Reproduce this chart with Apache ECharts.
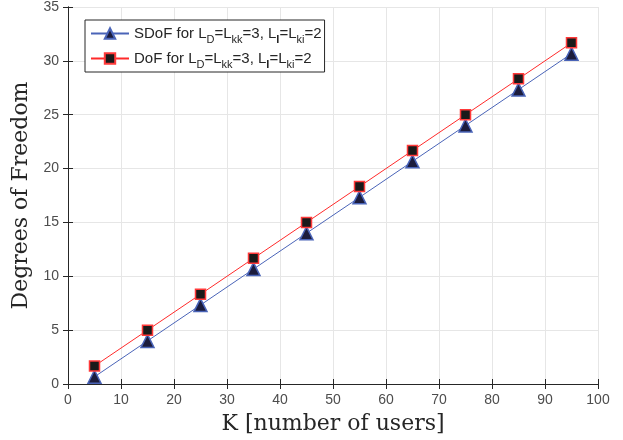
<!DOCTYPE html>
<html>
<head>
<meta charset="utf-8">
<script src="https://cdn.jsdelivr.net/npm/echarts@6/dist/echarts.min.js"></script>
<style>
  html, body { margin: 0; padding: 0; background: #fff; }
  #chart { width: 623px; height: 440px; }
</style>
</head>
<body>
<div id="chart"></div>
<script>
const users = [5, 15, 25, 35, 45, 55, 65, 75, 85, 95]
const sdof = [0.67, 4.0, 7.33, 10.67, 14.0, 17.33, 20.67, 24.0, 27.33, 30.67]
const dof = [1.67, 5.0, 8.33, 11.67, 15.0, 18.33, 21.67, 25.0, 28.33, 31.67]

const pairs = (xs, ys) => xs.map((x, i) => [x, ys[i]])

const tickFont = { color: '#4d4d4d', fontSize: 14, fontFamily: 'Liberation Sans, Arial' }
const axisLineStyle = { color: '#262626', width: 1 }
const serif = 'DejaVu Serif, Liberation Serif'

// legend text with subscripts
const legendRich = {
  n: { fontSize: 15, fontFamily: 'Liberation Sans, Arial', color: '#262626', lineHeight: 22 },
  s: { fontSize: 11, fontFamily: 'Liberation Sans, Arial', color: '#262626', padding: [12, 0, 0, 0], lineHeight: 22 },
  b: { fontSize: 11, fontWeight: 'bold', fontFamily: 'Liberation Sans, Arial', color: '#262626', padding: [12, 0, 0, 0], lineHeight: 22 }
}

const chart = echarts.init(document.getElementById('chart'))
chart.setOption({
  animation: false,
  grid: { left: 68, right: 25, top: 6, bottom: 55 },
  legend: {
    left: 85, top: 20,
    orient: 'vertical',
    itemWidth: 38, itemHeight: 13, itemGap: 2,
    backgroundColor: '#fff',
    borderColor: '#262626', borderWidth: 1,
    padding: [2, 3, 2, 5],
    data: ['sdof', 'dof'],
    formatter: name => name === 'sdof'
      ? '{n|SDoF for L}{s|D}{n|=L}{s|kk}{n|=3, L}{b|I}{n|=L}{s|ki}{n|=2}'
      : '{n|DoF for L}{s|D}{n|=L}{s|kk}{n|=3, L}{b|I}{n|=L}{s|ki}{n|=2}',
    textStyle: { rich: legendRich }
  },
  xAxis: [
    {
      type: 'value', min: 0, max: 100, interval: 10,
      name: 'K [number of users]', nameLocation: 'middle', nameGap: 29,
      nameTextStyle: { fontFamily: serif, fontSize: 22, color: '#262626' },
      axisLine: { show: true, lineStyle: axisLineStyle },
      axisTick: { show: true, inside: true, length: 5, lineStyle: axisLineStyle },
      axisLabel: Object.assign({ margin: 9 }, tickFont),
      splitLine: { show: true, lineStyle: { color: '#e6e6e6' } }
    },
    {
      type: 'value', min: 0, max: 100, interval: 10, position: 'top',
      axisLine: { show: true, lineStyle: axisLineStyle },
      axisTick: { show: true, inside: true, length: 5, lineStyle: axisLineStyle },
      axisLabel: { show: false },
      splitLine: { show: false }
    }
  ],
  yAxis: [
    {
      type: 'value', min: 0, max: 35, interval: 5,
      name: 'Degrees of Freedom', nameLocation: 'middle', nameGap: 34,
      nameTextStyle: { fontFamily: serif, fontSize: 22, color: '#262626' },
      axisLine: { show: true, lineStyle: axisLineStyle },
      axisTick: { show: true, inside: true, length: 5, lineStyle: axisLineStyle },
      axisLabel: Object.assign({ margin: 9 }, tickFont),
      splitLine: { show: true, lineStyle: { color: '#e6e6e6' } }
    },
    {
      type: 'value', min: 0, max: 35, interval: 5, position: 'right',
      axisLine: { show: true, lineStyle: axisLineStyle },
      axisTick: { show: true, inside: true, length: 5, lineStyle: axisLineStyle },
      axisLabel: { show: false },
      splitLine: { show: false }
    }
  ],
  series: [
    {
      name: 'sdof', type: 'line', data: pairs(users, sdof),
      symbol: 'triangle', symbolSize: 13,
      lineStyle: { color: '#4a64b8', width: 1 },
      itemStyle: { color: '#1c1c3c', borderColor: '#4a64b8', borderWidth: 1.5 }
    },
    {
      name: 'dof', type: 'line', data: pairs(users, dof),
      symbol: 'rect', symbolSize: 10,
      lineStyle: { color: '#ff2a2a', width: 1 },
      itemStyle: { color: '#1a1a1a', borderColor: '#ff3a3a', borderWidth: 1.5 }
    }
  ]
})
</script>
</body>
</html>
